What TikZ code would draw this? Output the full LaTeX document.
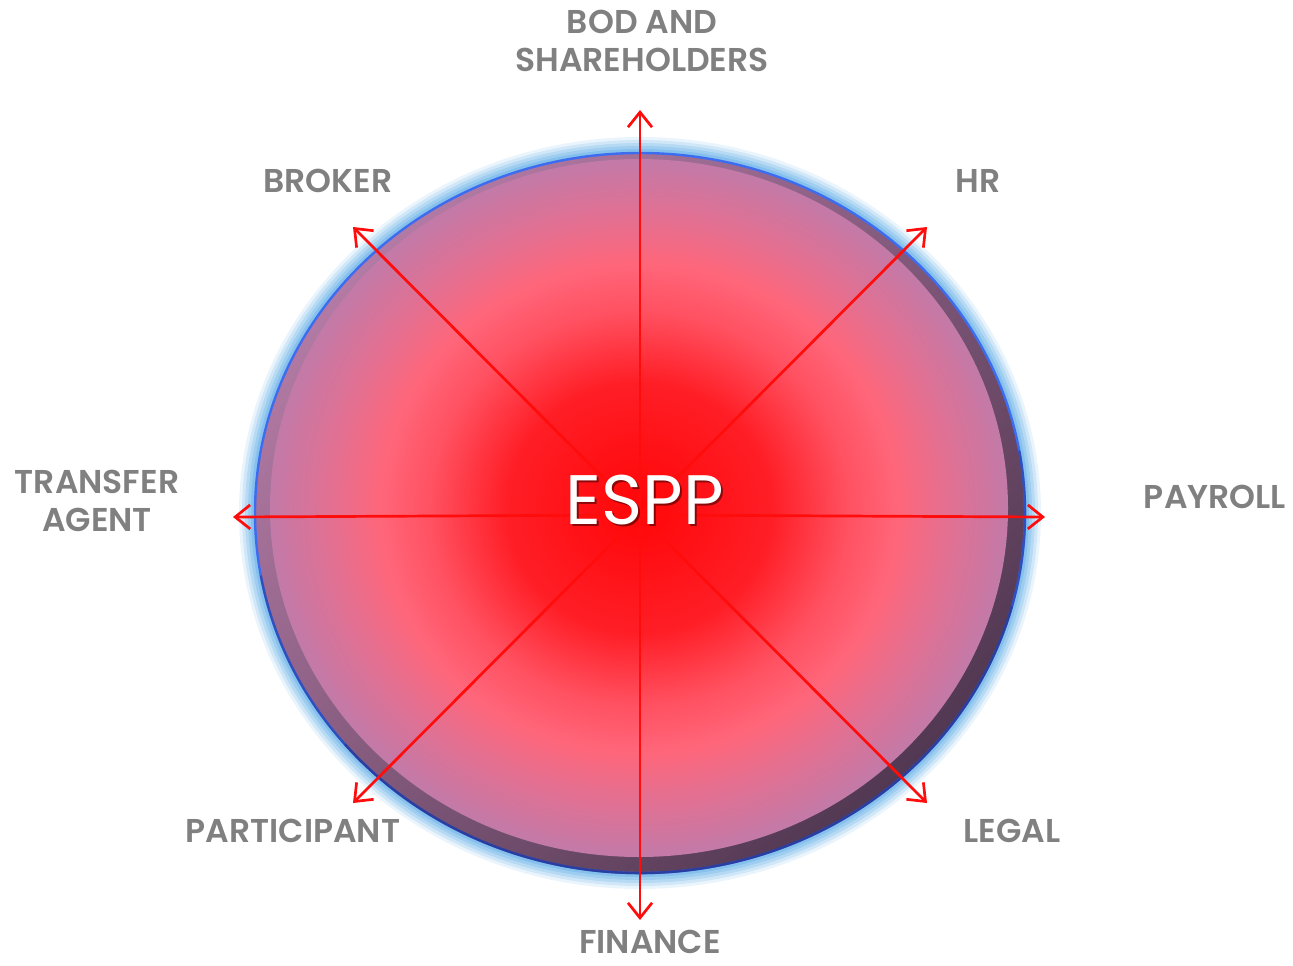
\documentclass[tikz,border=0pt]{standalone}
\usepackage{fontspec}
\setmainfont{Poppins}[BoldFont={* SemiBold}]
\usetikzlibrary{arrows.meta}

\definecolor{labelgray}{HTML}{808080}
\definecolor{arrowred}{HTML}{FF0C0C}
\definecolor{rimblue}{HTML}{3C6CF0}
\definecolor{rimnavy}{HTML}{26348E}
\definecolor{glowblue}{HTML}{6CB4E8}
\definecolor{rimlight}{HTML}{B27AA4}
\definecolor{rimdark}{HTML}{523852}

% red core fading out to mauve at the rim
\pgfdeclareradialshading{esppcore}{\pgfpoint{0bp}{0bp}}{%
  color(0bp)=(rgb,255:red,255;green,6;blue,8);
  color(9bp)=(rgb,255:red,255;green,30;blue,38);
  color(14bp)=(rgb,255:red,255;green,80;blue,96);
  color(17.5bp)=(rgb,255:red,255;green,102;blue,122);
  color(21bp)=(rgb,255:red,226;green,112;blue,146);
  color(25bp)=(rgb,255:red,194;green,122;blue,168);
  color(50bp)=(rgb,255:red,194;green,122;blue,168)}

\tikzset{
  party/.style={text=labelgray, font=\fontsize{33}{38}\selectfont\bfseries, align=center, inner sep=2pt},
  link/.style={draw=arrowred, line width=2.7pt, -{Straight Barb[length=15pt,width=24pt,line width=2.7pt]}},
}

\begin{document}
\begin{tikzpicture}[x=1pt, y=-1pt]
  \useasboundingbox (0,0) rectangle (1293,966);

  % soft glow round the disc
  \foreach \w/\o in {32/0.14, 26/0.20, 20/0.26, 14/0.34, 8/0.5}
    \draw[glowblue, line width=\w pt, opacity=\o] (640,513) ellipse [x radius=385, y radius=360];

  % bevelled rim and core
  \shade[top color=rimlight, bottom color=rimdark, shading angle=45]
    (640,513) ellipse [x radius=385, y radius=360];
  \shade[shading=esppcore] (639,508) ellipse [x radius=369, y radius=349];
  \draw[rimblue, line width=2.4pt] (640,513) ellipse [x radius=385, y radius=360];
  \draw[rimnavy, line width=2.4pt, opacity=0.5] (640,513) ++(-10:385 and 360)
    arc [start angle=-10, end angle=170, x radius=385, y radius=360];
  \draw[rimnavy, line width=2.4pt, opacity=0.6] (640,513) ++(15:385 and 360)
    arc [start angle=15, end angle=140, x radius=385, y radius=360];

  % hub and arrow tips
  \coordinate (hub) at (640,515);
  \coordinate (tip-bod) at (640,110);
  \coordinate (tip-hr) at (927,227);
  \coordinate (tip-payroll) at (1045,517);
  \coordinate (tip-legal) at (927,803);
  \coordinate (tip-finance) at (640,920);
  \coordinate (tip-participant) at (353,803);
  \coordinate (tip-transfer) at (233,517);
  \coordinate (tip-broker) at (353,227);

  \foreach \t in {bod,hr,payroll,legal,finance,participant,transfer,broker}
    \draw[link] (hub) -- (tip-\t);

  % parties
  \node[party] (bod) at (642,41) {BOD AND\\SHAREHOLDERS};
  \node[party] (broker) at (328,181) {BROKER};
  \node[party] (hr) at (978,181) {HR};
  \node[party] (transfer) at (97,501) {TRANSFER\\AGENT};
  \node[party] (payroll) at (1215,497) {PAYROLL};
  \node[party] (participant) at (293,831) {PARTICIPANT};
  \node[party] (finance) at (650,942) {FINANCE};
  \node[party] (legal) at (1012,831) {LEGAL};

  % plan name on top
  \node[text=black, opacity=0.45, font=\fontsize{70}{72}\selectfont] (espp-shadow) at (647,502) {ESPP};
  \node[text=white, font=\fontsize{70}{72}\selectfont] (espp) at (645,500) {ESPP};
\end{tikzpicture}
\end{document}
